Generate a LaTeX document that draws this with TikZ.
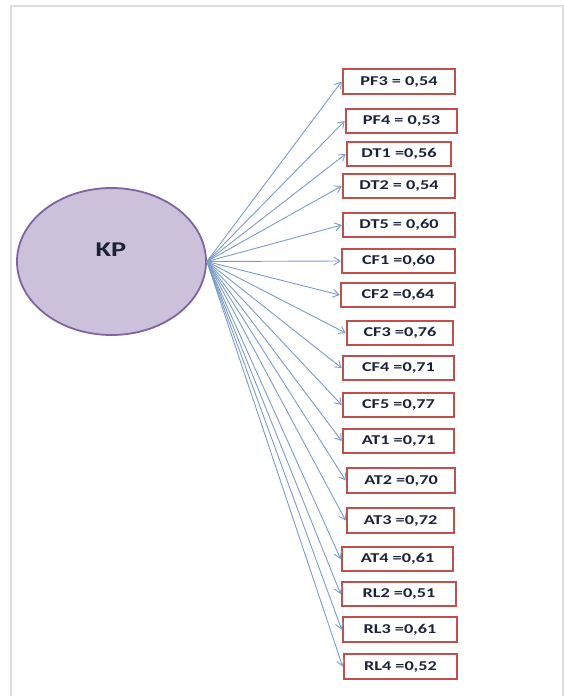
\documentclass[tikz,border=0pt]{standalone}
\usepackage{fontspec}
\setmainfont{Carlito}
\usetikzlibrary{shapes.geometric,arrows.meta}
\definecolor{framegray}{HTML}{DDDDDD}
\definecolor{latentfill}{HTML}{CCC1DA}
\definecolor{latentline}{HTML}{8064A2}
\definecolor{boxline}{HTML}{C0504D}
\definecolor{pathline}{HTML}{7C9CC8}
\definecolor{labeltext}{HTML}{1A2238}
\tikzset{
  latent/.style={ellipse, draw=latentline, line width=1.8pt, fill=latentfill,
    minimum width=189pt, minimum height=147pt, inner sep=0pt},
  indicator/.style={draw=boxline, line width=2.7pt, fill=white, inner sep=0pt,
    font=\bfseries\fontsize{13.5}{14}\selectfont, text=labeltext},
  loading/.style={draw=pathline, line width=0.9pt,
    -{Straight Barb[length=6pt,width=8pt,line width=0.9pt]}},
}
\newcommand{\widetext}[2]{\scalebox{#1}[1]{#2}}
\begin{document}
\begin{tikzpicture}[x=1pt,y=-1pt]
\useasboundingbox (0,0) rectangle (564,696);
% page frame
\draw[framegray, line width=1.4pt] (11,696) -- (11,6) -- (563,6) -- (563,696);
% latent construct
\node[latent] (kp) at (111.5,261.5) {};
\node[font=\bfseries\fontsize{21}{22}\selectfont, text=labeltext] (kplabel) at (111,250) {\widetext{1.35}{KP}};
% indicators: name / label / left / right / top / bottom
\foreach \n/\lbl/\xl/\xr/\yt/\yb in {
  pf3/{PF3 = 0,54}/343/455/69/94,
  pf4/{PF4 = 0,53}/346/457/109/133,
  dt1/{DT1 =0,56}/347/451/142/166,
  dt2/{DT2 = 0,54}/343/455/174/198,
  dt5/{DT5 = 0,60}/343/455/213/237,
  cf1/{CF1 =0,60}/342/455/249/273,
  cf2/{CF2 =0,64}/341/455/283/307,
  cf3/{CF3 =0,76}/347/453/321/345,
  cf4/{CF4 =0,71}/343/454/356/380,
  cf5/{CF5 =0,77}/343/454/393/417,
  at1/{AT1 =0,71}/343/454/429/453,
  at2/{AT2 =0,70}/347/455/468/493,
  at3/{AT3 =0,72}/347/454/508/533,
  at4/{AT4 =0,61}/342/453/547/571,
  rl2/{RL2 =0,51}/342/456/582/606,
  rl3/{RL3 =0,61}/343/457/617/642,
  rl4/{RL4 =0,52}/344/457/654/679} {
  \pgfmathsetmacro{\cx}{(\xl+\xr)/2}
  \pgfmathsetmacro{\cy}{(\yt+\yb)/2}
  \pgfmathsetmacro{\bw}{\xr-\xl}
  \pgfmathsetmacro{\bh}{\yb-\yt}
  \node[indicator, minimum width=\bw pt, minimum height=\bh pt] (\n) at (\cx,\cy) {\widetext{1.35}{\lbl}\hspace{12pt}};
  \draw[loading] (kp.east) -- (\n.west);
}
\end{tikzpicture}
\end{document}
